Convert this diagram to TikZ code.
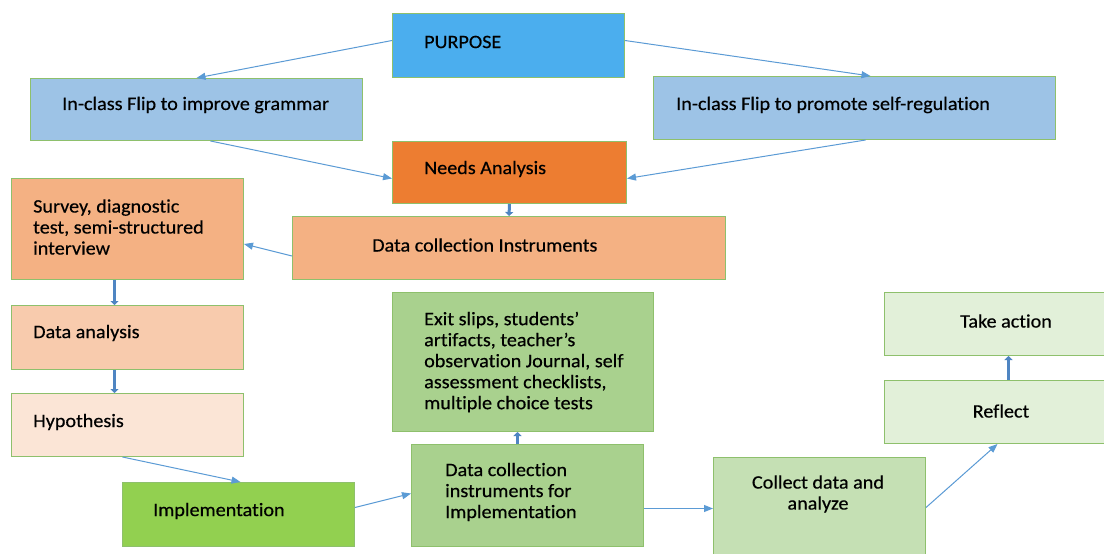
\documentclass[tikz,border=0pt]{standalone}
\usepackage{fontspec}
\setmainfont{Carlito}[FakeStretch=1.06, FakeBold=0.4, Ligatures={NoCommon}, RawFeature={-liga}]
\usetikzlibrary{arrows.meta,calc}
\definecolor{bordergreen}{HTML}{8EC06C}
\definecolor{cPurpose}{HTML}{4BAEEE}
\definecolor{cBlueL}{HTML}{9DC3E6}
\definecolor{cOrange}{HTML}{ED7D31}
\definecolor{cOrangeM}{HTML}{F4B183}
\definecolor{cOrangeL}{HTML}{F8CBAD}
\definecolor{cOrangeXL}{HTML}{FBE5D6}
\definecolor{cGreenM}{HTML}{A9D18E}
\definecolor{cGreen}{HTML}{92D050}
\definecolor{cGreenL}{HTML}{C5E0B4}
\definecolor{cGreenXL}{HTML}{E2F0D9}
\definecolor{thinblue}{HTML}{5B9BD5}
\definecolor{thickblue}{HTML}{4F85C2}
\begin{document}
\begin{tikzpicture}[x=1pt,y=-1pt,
  box/.style={rectangle, draw=bordergreen, line width=1pt, inner sep=0pt, anchor=north west},
  txt/.style={inner sep=0pt, anchor=west, align=left, font=\fontsize{19}{21}\selectfont},
  ctxt/.style={inner sep=0pt, anchor=center, align=center, font=\fontsize{19}{21}\selectfont},
  thinarrow/.style={draw=thinblue, line width=1pt, -{Triangle[width=7pt,length=9pt]}},
  thickarrow/.style={draw=thickblue, line width=3pt, -{Triangle[width=8pt,length=4pt]}}]
\useasboundingbox (0,0) rectangle (1104,554);
\fill[white] (0,0) rectangle (1104,554);
% boxes
\node[box, fill=cPurpose, minimum width=232pt, minimum height=64pt] (purpose) at (392,13) {};
\node[box, fill=cBlueL, minimum width=332pt, minimum height=62pt] (grammar) at (30,78) {};
\node[box, fill=cBlueL, minimum width=402pt, minimum height=63pt] (selfreg) at (653,76) {};
\node[box, fill=cOrange, minimum width=234pt, minimum height=62pt] (needs) at (392,141) {};
\node[box, fill=cOrangeM, minimum width=232pt, minimum height=101pt] (survey) at (11,178) {};
\node[box, fill=cOrangeM, minimum width=433pt, minimum height=63pt] (dci) at (292,216) {};
\node[box, fill=cOrangeL, minimum width=232pt, minimum height=64pt] (danalysis) at (11,305) {};
\node[box, fill=cOrangeXL, minimum width=232pt, minimum height=63pt] (hyp) at (11,393) {};
\node[box, fill=cGreenM, minimum width=261pt, minimum height=139pt] (exit) at (392,292) {};
\node[box, fill=cGreenXL, minimum width=226pt, minimum height=63pt] (take) at (884,292) {};
\node[box, fill=cGreenXL, minimum width=226pt, minimum height=63pt] (reflect) at (884,380) {};
\node[box, fill=cGreen, minimum width=232pt, minimum height=64pt] (impl) at (122,482) {};
\node[box, fill=cGreenM, minimum width=232pt, minimum height=102pt] (dcifi) at (411,444) {};
\node[box, fill=cGreenL, minimum width=212pt, minimum height=102pt] (collect) at (713,457) {};
% texts
\node[txt] (purposeT) at (424,42) {PURPOSE};
\node[txt] (grammarT) at (62,105) {In-class Flip to improve grammar};
\node[txt] (selfregT) at (676,105) {In-class Flip to promote self-regulation};
\node[txt] (needsT) at (424,169) {Needs Analysis};
\node[txt] (surveyT) at (33,227) {Survey, diagnostic\\test, semi-structured\\interview};
\node[txt] (dciT) at (372,245) {Data collection Instruments};
\node[txt] (danalysisT) at (33,333) {Data analysis};
\node[txt] (hypT) at (33,422) {Hypothesis};
\node[txt] (exitT) at (424,362) {Exit slips, students’\\artifacts, teacher’s\\observation Journal, self\\assessment checklists,\\multiple choice tests};
\node[ctxt] (takeT) at (1006,321) {Take action};
\node[ctxt] (reflectT) at (1001,411) {Reflect};
\node[txt] (implT) at (153,511) {Implementation};
\node[txt] (dcifiT) at (445,492) {Data collection\\instruments for\\Implementation};
\node[ctxt] (collectT) at (818,494) {Collect data and\\analyze};
% thin connectors
\draw[thinarrow] ($(purpose.west)+(0,-5)$) -- (grammar.north);
\draw[thinarrow] ($(purpose.east)+(0,-5)$) -- ($(selfreg.north)+(16,0)$);
\draw[thinarrow] ($(grammar.south)+(14,0)$) -- ($(needs.west)+(0,6)$);
\draw[thinarrow] ($(selfreg.south)+(11,0)$) -- ($(needs.east)+(0,6)$);
\draw[thinarrow] ($(dci.west)+(0,8)$) -- ($(survey.east)+(0,15)$);
\draw[thinarrow] ($(hyp.south)+(-5,0)$) -- ($(impl.north)+(2,0)$);
\draw[thinarrow] ($(impl.east)+(0,-7)$) -- ($(dcifi.west)+(0,-2)$);
\draw[thinarrow] ($(dcifi.east)+(0,13)$) -- (collect.west);
\draw[thinarrow] ($(collect.east)+(0,-1)$) -- (reflect.south);
% thick connectors
\draw[thickarrow] (needs.south) -- (dci.north);
\draw[thickarrow] ($(survey.south)+(-13,0)$) -- ($(danalysis.north)+(-13,0)$);
\draw[thickarrow] ($(danalysis.south)+(-13,0)$) -- ($(hyp.north)+(-13,0)$);
\draw[thickarrow] ($(dcifi.north)+(-10,0)$) -- ($(exit.south)+(-5.5,0)$);
\draw[thickarrow] ($(reflect.north)+(11,0)$) -- ($(take.south)+(11,0)$);
\end{tikzpicture}
\end{document}
